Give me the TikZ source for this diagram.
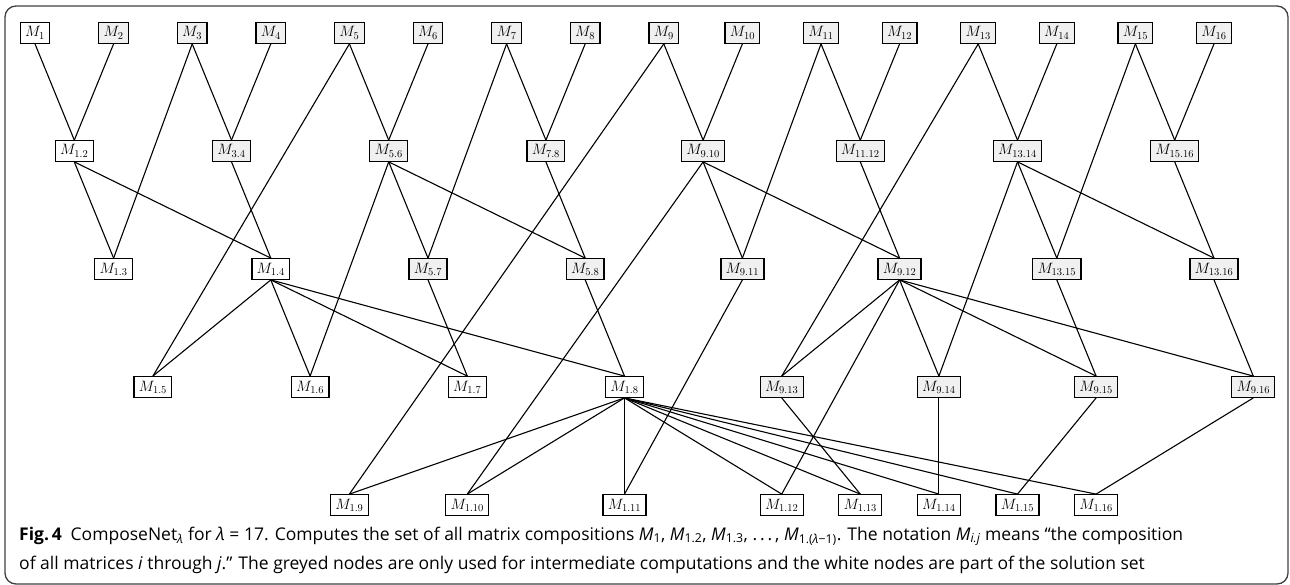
\RequirePackage{fix-cm}
\documentclass[tikz,border=0pt]{standalone}
\usepackage{fontspec}
\newfontfamily\capfont{Open Sans}
\newcommand{\lam}{\textit{λ}}
\newcommand{\mm}[1]{\textit{M}\textsubscript{#1}}
\begin{document}
\begin{tikzpicture}[x=1pt,y=-1pt,
  wbox/.style={draw=black, line width=1.3pt, fill=white, minimum height=20.5pt,
    inner xsep=4.8pt, inner ysep=0pt, font=\fontsize{15}{17}\selectfont},
  gbox/.style={wbox, fill=black!6},
  edge/.style={line width=1.1pt, black},
  frame/.style={draw=black!75, line width=1.3pt, rounded corners=11pt},
  captext/.style={anchor=base west, inner sep=0pt, font=\capfont\fontsize{17.5}{21}\selectfont}]
\useasboundingbox (0,0) rectangle (1290,585);
\draw[frame] (5,6) rectangle (1288,584);
% row 1
\node[wbox] (m1) at ({35+0*78.6},33) {$M_{1}$};
\foreach \i in {2,...,16}
  \node[gbox] (m\i) at ({35+(\i-1)*78.6},33) {$M_{\i}$};
% row 2
\node[wbox] (m1-2)   at ({35+0.5*78.6},151) {$M_{1.2}$};
\node[gbox] (m3-4)   at ({35+2.5*78.6},151) {$M_{3.4}$};
\node[gbox] (m5-6)   at ({35+4.5*78.6},151) {$M_{5.6}$};
\node[gbox] (m7-8)   at ({35+6.5*78.6},151) {$M_{7.8}$};
\node[gbox] (m9-10)  at ({35+8.5*78.6},151) {$M_{9.10}$};
\node[gbox] (m11-12) at ({35+10.5*78.6},151) {$M_{11.12}$};
\node[gbox] (m13-14) at ({35+12.5*78.6},151) {$M_{13.14}$};
\node[gbox] (m15-16) at ({35+14.5*78.6},151) {$M_{15.16}$};
% row 3
\node[wbox] (m1-3)   at ({35+1*78.6},269) {$M_{1.3}$};
\node[wbox] (m1-4)   at ({35+3*78.6},269) {$M_{1.4}$};
\node[gbox] (m5-7)   at ({35+5*78.6},269) {$M_{5.7}$};
\node[gbox] (m5-8)   at ({35+7*78.6},269) {$M_{5.8}$};
\node[gbox] (m9-11)  at ({35+9*78.6},269) {$M_{9.11}$};
\node[gbox] (m9-12)  at ({35+11*78.6},269) {$M_{9.12}$};
\node[gbox] (m13-15) at ({35+13*78.6},269) {$M_{13.15}$};
\node[gbox] (m13-16) at ({35+15*78.6},269) {$M_{13.16}$};
% row 4
\node[wbox] (m1-5)   at ({35+1.5*78.6},387) {$M_{1.5}$};
\node[wbox] (m1-6)   at ({35+3.5*78.6},387) {$M_{1.6}$};
\node[wbox] (m1-7)   at ({35+5.5*78.6},387) {$M_{1.7}$};
\node[wbox] (m1-8)   at ({35+7.5*78.6},387) {$M_{1.8}$};
\node[gbox] (m9-13)  at ({35+9.5*78.6},387) {$M_{9.13}$};
\node[gbox] (m9-14)  at ({35+11.5*78.6},387) {$M_{9.14}$};
\node[gbox] (m9-15)  at ({35+13.5*78.6},387) {$M_{9.15}$};
\node[gbox] (m9-16)  at ({35+15.5*78.6},387) {$M_{9.16}$};
% row 5
\node[wbox] (m1-9)   at ({35+4*78.6},505) {$M_{1.9}$};
\node[wbox] (m1-10)  at ({35+5.5*78.6},505) {$M_{1.10}$};
\node[wbox] (m1-11)  at ({35+7.5*78.6},505) {$M_{1.11}$};
\node[wbox] (m1-12)  at ({35+9.5*78.6},505) {$M_{1.12}$};
\node[wbox] (m1-13)  at ({35+10.5*78.6},505) {$M_{1.13}$};
\node[wbox] (m1-14)  at ({35+11.5*78.6},505) {$M_{1.14}$};
\node[wbox] (m1-15)  at ({35+12.5*78.6},505) {$M_{1.15}$};
\node[wbox] (m1-16)  at ({35+13.5*78.6},505) {$M_{1.16}$};
% edges
\foreach \a/\b in {m1/m1-2, m2/m1-2, m3/m3-4, m4/m3-4, m5/m5-6, m6/m5-6, m7/m7-8, m8/m7-8,
  m9/m9-10, m10/m9-10, m11/m11-12, m12/m11-12, m13/m13-14, m14/m13-14, m15/m15-16, m16/m15-16,
  m1-2/m1-3, m3/m1-3, m1-2/m1-4, m3-4/m1-4, m5-6/m5-7, m7/m5-7, m5-6/m5-8, m7-8/m5-8,
  m9-10/m9-11, m11/m9-11, m9-10/m9-12, m11-12/m9-12, m13-14/m13-15, m15/m13-15, m13-14/m13-16, m15-16/m13-16,
  m1-4/m1-5, m5/m1-5, m1-4/m1-6, m5-6/m1-6, m1-4/m1-7, m5-7/m1-7, m1-4/m1-8, m5-8/m1-8,
  m9-12/m9-13, m13/m9-13, m9-12/m9-14, m13-14/m9-14, m9-12/m9-15, m13-15/m9-15, m9-12/m9-16, m13-16/m9-16,
  m1-8/m1-9, m9/m1-9, m1-8/m1-10, m9-10/m1-10, m1-8/m1-11, m9-11/m1-11, m1-8/m1-12, m9-12/m1-12,
  m1-8/m1-13, m9-13/m1-13, m1-8/m1-14, m9-14/m1-14, m1-8/m1-15, m9-15/m1-15, m1-8/m1-16, m9-16/m1-16}
  \draw[edge] (\a.south) -- (\b.north);
% caption
\node[captext] (cap1) at (19,540)
  {\textbf{Fig.\,4}\enspace ComposeNet\textsubscript{\lam} for \lam{} = 17. Computes the set of all matrix compositions \mm{1}, \mm{1.2}, \mm{1.3}, .\,.\,.\,, \mm{1.(\lam−1)}. The notation \mm{\textit{i.j}} means “the composition};
\node[captext] (cap2) at (19,569)
  {of all matrices \textit{i} through \textit{j}.” The greyed nodes are only used for intermediate computations and the white nodes are part of the solution set};
\end{tikzpicture}
\end{document}
